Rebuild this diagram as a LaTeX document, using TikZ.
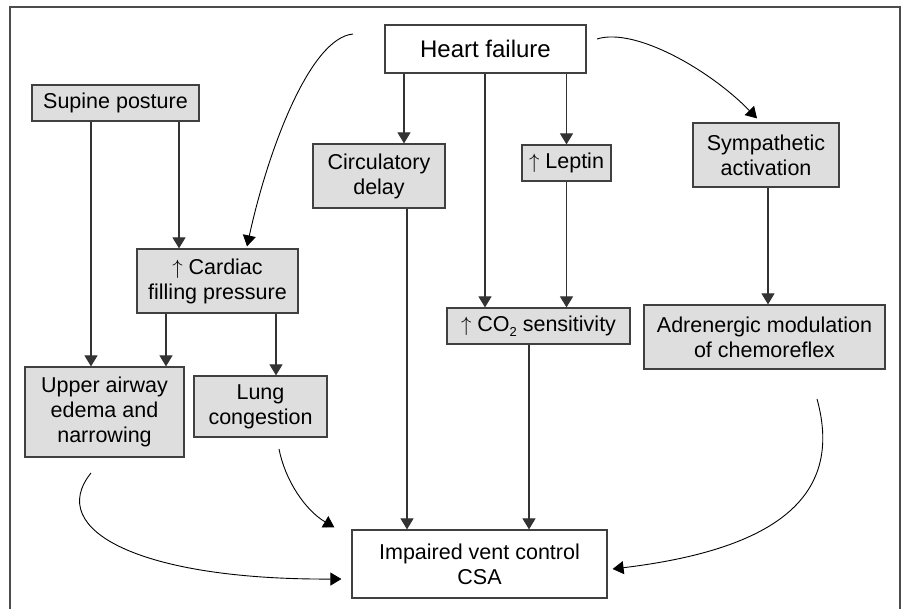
\documentclass[tikz,border=0pt]{standalone}
\usepackage{fontspec}
\setmainfont{Liberation Sans}
\usetikzlibrary{arrows.meta}
\newcommand{\up}{$\uparrow$}
\newcommand{\subtwo}{\raisebox{-5pt}{\fontsize{13}{13}\selectfont 2}}

\begin{document}
\begin{tikzpicture}[x=1pt,y=-1pt,
  box/.style={draw=black!75,line width=1.2pt,fill=black!13,align=center,inner sep=0pt,font=\fontsize{21.5}{25}\selectfont},
  topbox/.style={box,fill=white},
  arr/.style={draw=black!80,line width=1.1pt,-{Triangle[width=13pt,length=11pt]}},
  curv/.style={draw=black,line width=0.9pt,-{Triangle[width=13pt,length=11pt]}}]
\path[use as bounding box] (0,0) rectangle (907,609);
\draw[line width=1.3pt,black!70] (10,609) -- (10,7) -- (900,7) -- (900,609);
% boxes
\node[topbox,minimum width=201pt,minimum height=48pt,font=\fontsize{24}{28}\selectfont] (hf) at (485.5,49) {Heart failure};
\node[box,minimum width=167pt,minimum height=36pt] (supine) at (115.5,103) {Supine posture};
\node[box,minimum width=132pt,minimum height=64pt] (circ) at (379,176) {Circulatory\\delay};
\node[box,minimum width=89pt,minimum height=36pt] (leptin) at (566.5,163) {\up\ Leptin};
\node[box,minimum width=146pt,minimum height=64pt] (symp) at (766,155) {Sympathetic\\activation};
\node[box,minimum width=161pt,minimum height=64pt] (cardiac) at (217.5,281) {\up\ Cardiac\\filling pressure};
\node[box,minimum width=183pt,minimum height=36pt] (co2) at (538.5,326) {\up\ CO\subtwo\ sensitivity};
\node[box,minimum width=241pt,minimum height=64pt] (adren) at (764.5,337) {Adrenergic modulation\\of chemoreflex};
\node[box,minimum width=159pt,minimum height=90pt] (upper) at (104.5,412) {Upper airway\\edema and\\narrowing};
\node[box,minimum width=133pt,minimum height=61pt] (lung) at (260.5,406.5) {Lung\\congestion};
\node[topbox,minimum width=255pt,minimum height=68pt] (csa) at (479.5,564) {Impaired vent control\\CSA};
% straight arrows
\draw[arr] (hf.south -| 404,0) -- (circ.north -| 404,0);
\draw[arr] (hf.south -| 485,0) -- (co2.north -| 485,0);
\draw[arr] (hf.south -| leptin.north) -- (leptin.north);
\draw[arr] (leptin.south) -- (co2.north -| leptin.south);
\draw[arr] (symp.south -| 768,0) -- (adren.north -| 768,0);
\draw[arr] (supine.south -| 91,0) -- (upper.north -| 91,0);
\draw[arr] (supine.south -| 179,0) -- (cardiac.north -| 179,0);
\draw[arr] (cardiac.south -| 166,0) -- (upper.north -| 166,0);
\draw[arr] (cardiac.south -| 276,0) -- (lung.north -| 276,0);
\draw[arr] (circ.south -| 407,0) -- (csa.north -| 407,0);
\draw[arr] (co2.south -| 529,0) -- (csa.north -| 529,0);
% curved arrows
\coordinate (hfl) at (353,34);
\coordinate (hfr) at (597,39);
\coordinate (upo) at (91,473);
\coordinate (lgo) at (279,449);
\coordinate (ado) at (817,399);
\draw[curv] (hfl) .. controls (310,38) and (268,150) .. ([yshift=2pt]cardiac.north -| 247,0);
\draw[curv] (hfr) .. controls (635,27) and (710,70) .. ([xshift=-9pt,yshift=4pt]symp.north);
\draw[curv] (upo) .. controls (45,530) and (140,580) .. ([xshift=-10pt]csa.west |- 0,579);
\draw[curv] (lgo) .. controls (285,480) and (305,510) .. ([xshift=-17pt,yshift=2pt]csa.north west);
\draw[curv] (ado) .. controls (845,500) and (770,550) .. ([xshift=5pt]csa.east |- 0,569);
\end{tikzpicture}
\end{document}
